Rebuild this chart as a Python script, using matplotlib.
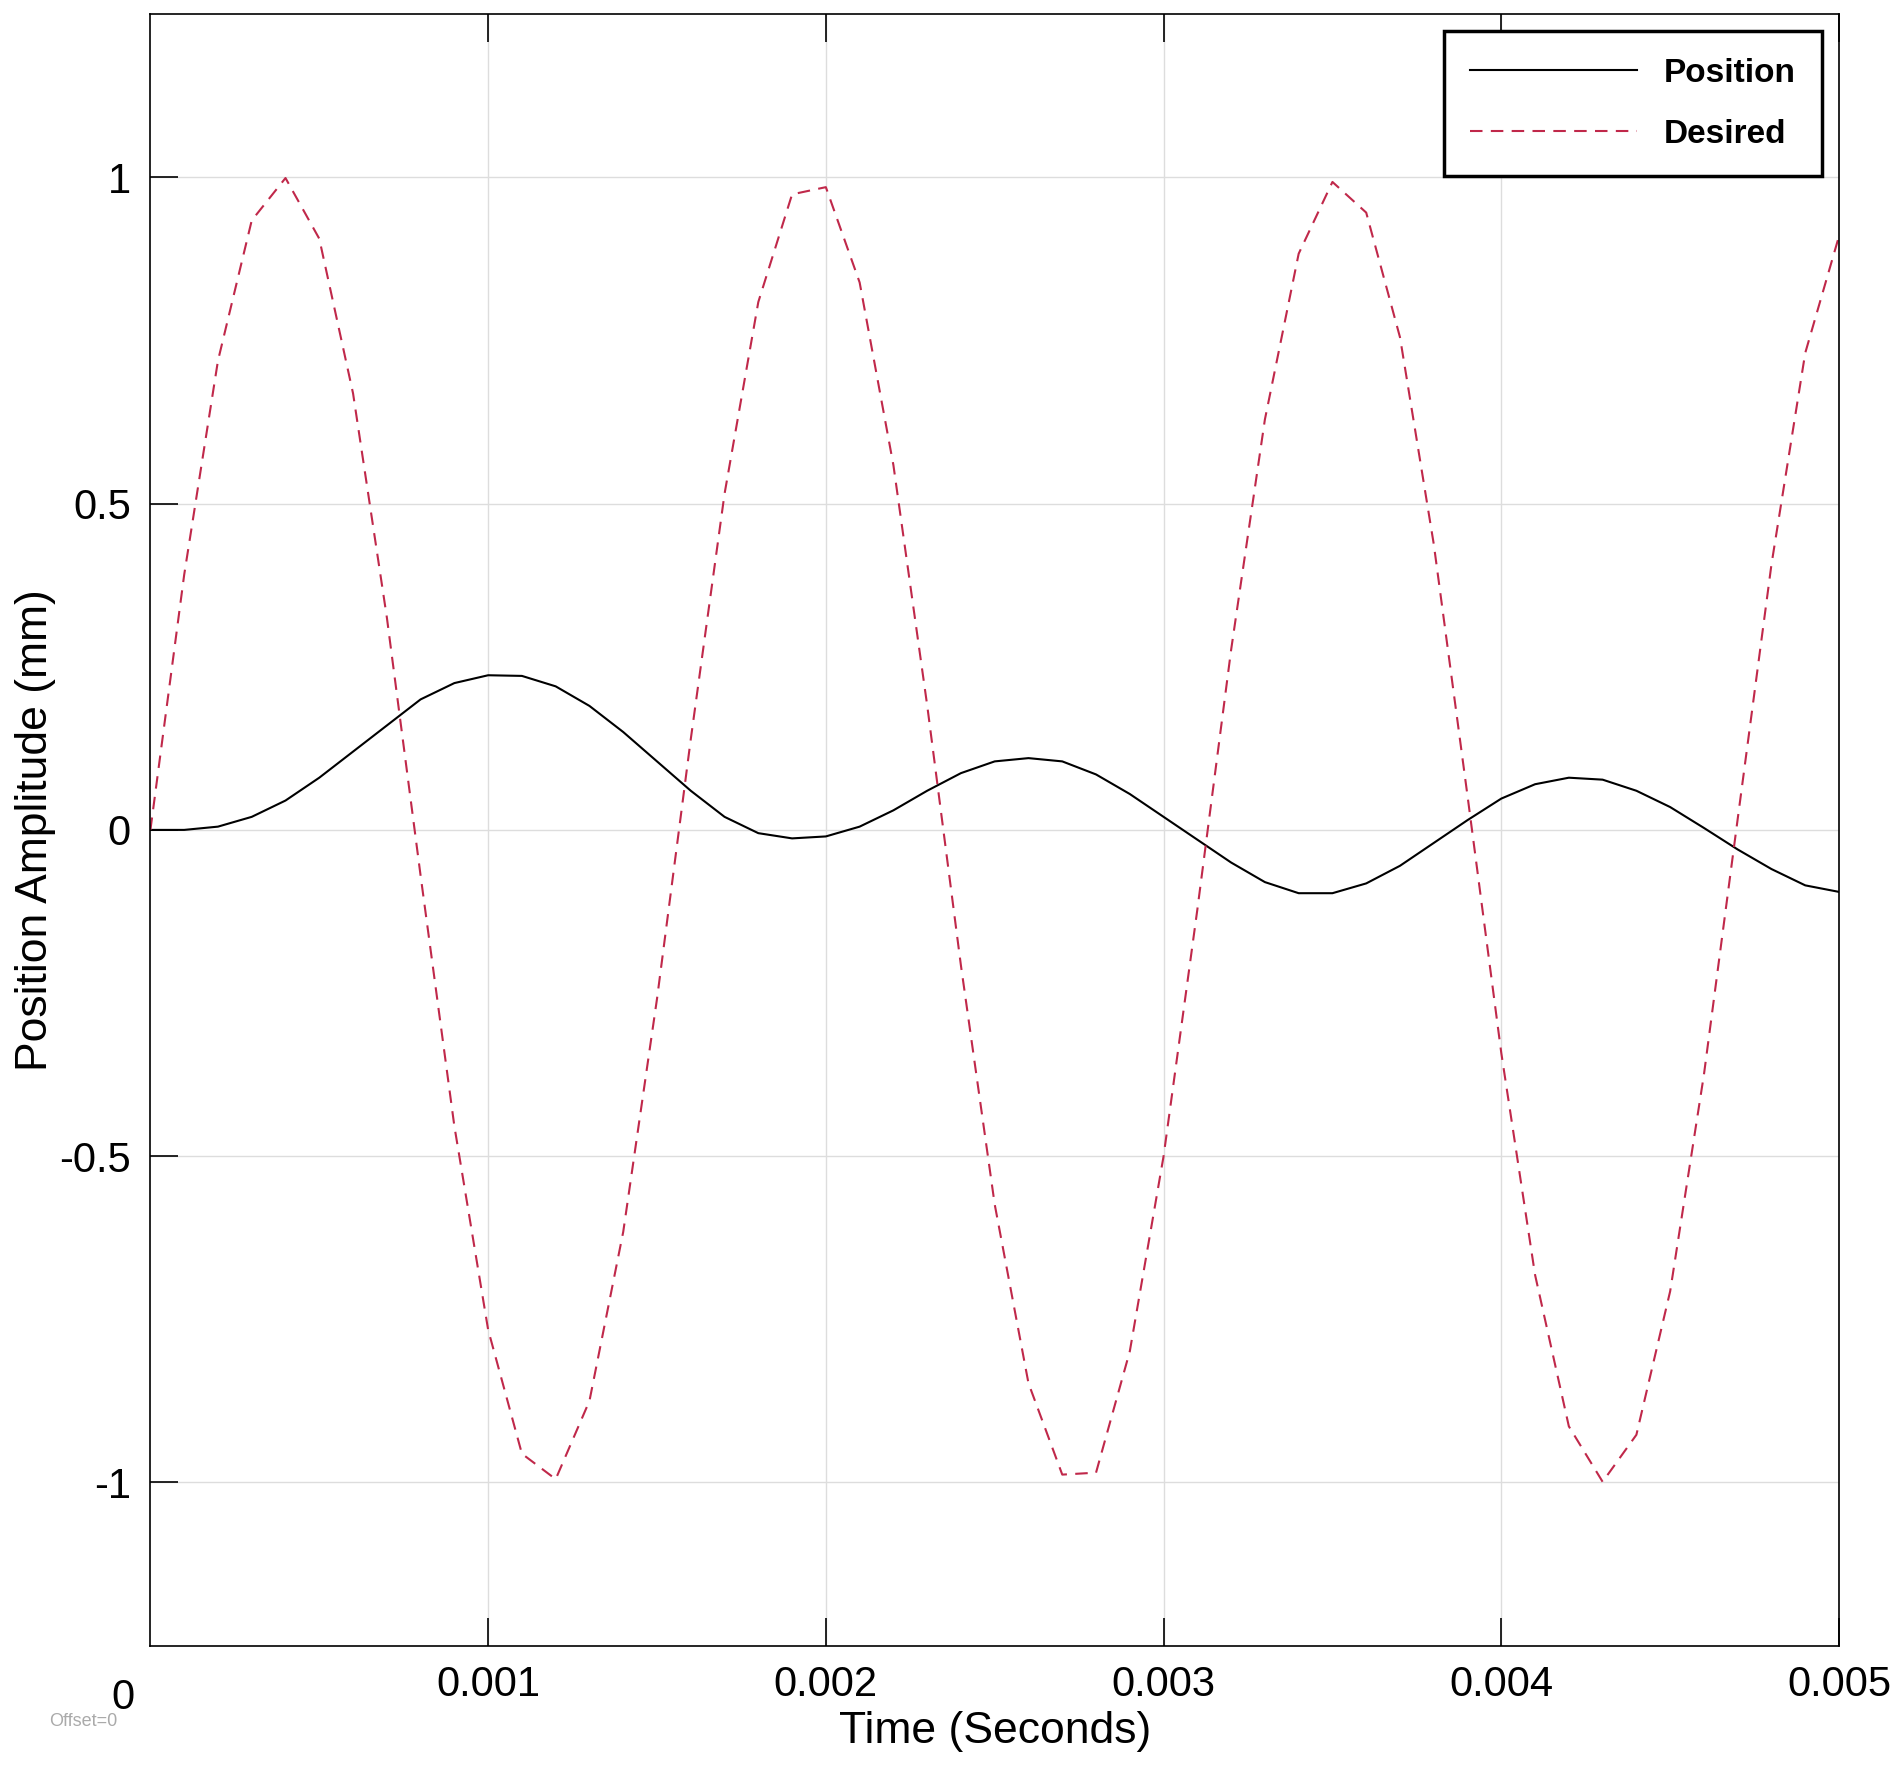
import matplotlib
matplotlib.use("Agg")
import matplotlib.pyplot as plt

plt.rcParams['font.family'] = ['Liberation Sans', 'DejaVu Sans']

time = [i*0.0001 for i in range(51)]
desired = [0, 0.391, 0.719, 0.934, 0.999, 0.906, 0.669, 0.326, -0.070, -0.454,
           -0.766, -0.956, -0.995, -0.875, -0.616, -0.259, 0.139, 0.515, 0.809, 0.974,
           0.985, 0.839, 0.559, 0.191, -0.208, -0.574, -0.848, -0.988, -0.985, -0.799,
           -0.5, -0.122, 0.276, 0.629, 0.883, 0.993, 0.946, 0.755, 0.438, 0.052,
           -0.342, -0.682, -0.914, -0.999, -0.927, -0.707, -0.375, 0.017, 0.407, 0.731, 0.910]
position = [0, 0.0, 0.005, 0.02, 0.045, 0.08, 0.12, 0.16, 0.2, 0.225,
            0.237, 0.236, 0.22, 0.19, 0.15, 0.105, 0.06, 0.02, -0.005, -0.013,
            -0.01, 0.005, 0.03, 0.06, 0.087, 0.105, 0.11, 0.105, 0.085, 0.055,
            0.02, -0.015, -0.05, -0.08, -0.097, -0.097, -0.082, -0.055, -0.02, 0.015,
            0.048, 0.07, 0.08, 0.077, 0.06, 0.035, 0.003, -0.03, -0.06, -0.085, -0.095]
yticks = [-1, -0.5, 0, 0.5, 1]
xticks = [0.001, 0.002, 0.003, 0.004, 0.005]

fig = plt.figure(figsize=(18.92, 17.79), dpi=100)
ax = fig.add_axes([0.0795, 0.075, 0.8925, 0.917])
ax.plot(time, position, color="black", lw=1.5, label="Position")
ax.plot(time, desired, color="#c0284a", lw=1.5, ls=(0, (6, 4)), label="Desired")
ax.set_xlim(0, 0.005)
ax.set_ylim(-1.25, 1.25)
ax.set_yticks(yticks)
ax.set_yticklabels(["-1", "-0.5", "0", "0.5", "1"], fontsize=30)
ax.set_xticks(xticks)
ax.set_xticklabels(["0.001", "0.002", "0.003", "0.004", "0.005"], fontsize=30)
ax.tick_params(direction="in", length=20, width=1.2, top=True, right=False, pad=14)
ax.grid(True, color="#dddddd", lw=1)
for s in ax.spines.values():
    s.set_linewidth(1.2)
ax.text(-0.00008, -1.33, "0", fontsize=30, ha="center", va="center", transform=ax.transData, clip_on=False)
fig.text(0.026, 0.030, "Offset=0", fontsize=13, color="#aaaaaa")
ax.set_xlabel("Time (Seconds)", fontsize=32, labelpad=4)
ax.set_ylabel("Position Amplitude (mm)", fontsize=32, labelpad=2)
leg = ax.legend(loc="upper right", frameon=True, fancybox=False,
                edgecolor="black", handlelength=5, borderpad=0.8, labelspacing=0.9,
                prop={"weight": "bold", "size": 24, "stretch": "condensed"})
leg.get_frame().set_linewidth(2.5)
leg.get_frame().set_alpha(1)
fig.savefig("out.png", dpi=100)
